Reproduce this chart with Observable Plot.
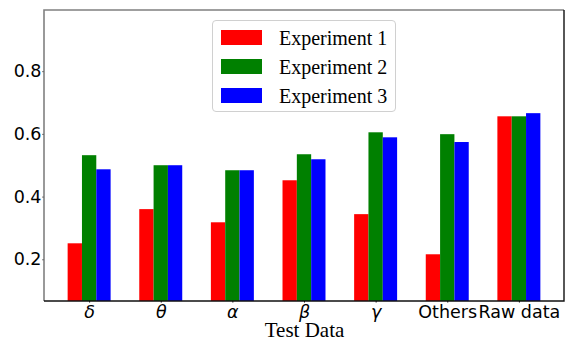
<!DOCTYPE html>
<html>
<head>
<meta charset="utf-8">
<script src="https://cdn.jsdelivr.net/npm/d3@7"></script>
<script src="https://cdn.jsdelivr.net/npm/@observablehq/plot@0.6"></script>
<style>
  html, body { margin: 0; padding: 0; background: #fff; }
  #wrap { position: relative; width: 576px; height: 341px; }
  #legend {
    position: absolute; left: 212px; top: 20px; width: 182px; height: 90px;
    border: 1px solid #d0d0d0; border-radius: 4px; background: rgba(255,255,255,0.8);
    font-family: "Liberation Serif", "Times New Roman", serif; font-size: 20px; color: #000;
  }
  .row { position: absolute; left: 0; height: 29px; width: 100%; }
  .sw { position: absolute; left: 8px; width: 41px; height: 15px; top: 7px; }
  .lb { position: absolute; left: 66px; top: 1px; line-height: 29px; white-space: nowrap; }
</style>
</head>
<body>
<div id="wrap"></div>
<script>
const categories = ["δ", "θ", "α", "β", "γ", "Others", "Raw data"];
const greek = ["δ", "θ", "α", "β", "γ"];
const seriesNames = ["Experiment 1", "Experiment 2", "Experiment 3"];
const seriesColors = ["#ff0000", "#008000", "#0000ff"];
const exp1 = [0.251, 0.360, 0.318, 0.452, 0.344, 0.216, 0.656];
const exp2 = [0.532, 0.500, 0.484, 0.535, 0.605, 0.599, 0.656];
const exp3 = [0.487, 0.500, 0.484, 0.519, 0.589, 0.574, 0.666];
const yDomain = [0.067, 0.995];
const yTicks = [0.2, 0.4, 0.6, 0.8];
const xLabel = "Test Data";

const barWidth = 0.2;
const seriesValues = [exp1, exp2, exp3];
const data = [];
categories.forEach((c, i) => {
  seriesNames.forEach((s, j) => data.push({cat: c, idx: i, sidx: j, series: s, value: seriesValues[j][i]}));
});
const catIdx = categories.map((c, i) => i);
const lo = -1.5 * barWidth, hi = categories.length - 1 + 1.5 * barWidth;
const pad = 0.05 * (hi - lo);

const W = 576, H = 341, mL = 44, mR = 12, mT = 10, mB = 40;

const plot = Plot.plot({
  width: W,
  height: H,
  marginLeft: mL,
  marginRight: mR,
  marginTop: mT,
  marginBottom: mB,
  style: {fontFamily: "DejaVu Sans", fontSize: "17.5px", color: "#000", background: "transparent", overflow: "visible"},
  x: {domain: [lo - pad, hi + pad], ticks: catIdx, tickFormat: () => "", tickSize: 1.5, label: null},
  y: {domain: yDomain, ticks: yTicks, tickFormat: ".1f", tickSize: 1.5, tickPadding: 1.5, label: null},
  color: {domain: seriesNames, range: seriesColors},
  marks: [
    Plot.rectY(data, {
      x1: d => d.idx + (d.sidx - 1.5) * barWidth,
      x2: d => d.idx + (d.sidx - 0.5) * barWidth,
      y1: yDomain[0], y2: "value", fill: "series", inset: 0
    }),
    Plot.text(catIdx.filter(i => greek.includes(categories[i])), {x: d => d, text: d => categories[d], frameAnchor: "bottom", lineAnchor: "middle", dy: 10.5, fontStyle: "italic", fontSize: 17.5, fill: "#000"}),
    Plot.text(catIdx.filter(i => !greek.includes(categories[i])), {x: d => d, text: d => categories[d], frameAnchor: "bottom", lineAnchor: "middle", dy: 10.5, fontSize: 17.5, fill: "#000"}),
    Plot.text([xLabel], {text: d => d, frameAnchor: "bottom", lineAnchor: "middle", dy: 29, fontSize: 21, fontFamily: "Liberation Serif", fill: "#000"})
  ]
});

const wrap = document.getElementById("wrap");
wrap.appendChild(plot);

// axes spines
const svg = d3.select(plot);
const x0 = mL, x1 = W - mR, y0 = mT, y1 = H - mB;
svg.append("path").attr("d", `M${x0},${y1}V${y0}H${x1}`).attr("fill", "none").attr("stroke", "#808080").attr("stroke-width", 1.6);
svg.append("path").attr("d", `M${x0},${y1}H${x1}V${y0}`).attr("fill", "none").attr("stroke", "#111").attr("stroke-width", 1.4);

// legend
const leg = document.createElement("div");
leg.id = "legend";
seriesNames.forEach((s, j) => {
  const row = document.createElement("div");
  row.className = "row";
  row.style.top = (2 + j * 29) + "px";
  const sw = document.createElement("div");
  sw.className = "sw";
  sw.style.background = seriesColors[j];
  const lb = document.createElement("div");
  lb.className = "lb";
  lb.textContent = s;
  row.appendChild(sw); row.appendChild(lb);
  leg.appendChild(row);
});
wrap.appendChild(leg);
</script>
</body>
</html>
